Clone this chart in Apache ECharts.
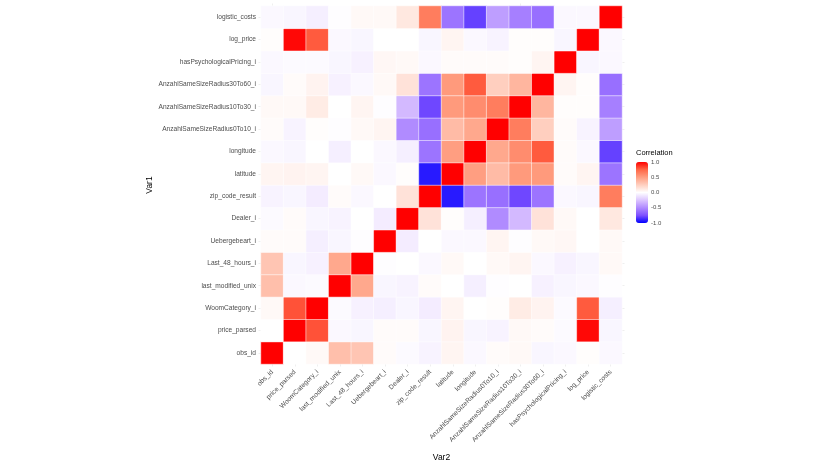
<!DOCTYPE html>
<html>
<head>
<meta charset="utf-8">
<script src="https://cdn.jsdelivr.net/npm/echarts@6/dist/echarts.min.js"></script>
<style>
  html, body { margin: 0; padding: 0; background: #fff; }
  #chart { width: 830px; height: 467px; }
</style>
</head>
<body>
<div id="chart"></div>
<script>
// variables, bottom-to-top on Var1 and left-to-right on Var2
var vars = ['obs_id', 'price_parsed', 'WoomCategory_i', 'last_modified_unix', 'Last_48_hours_i',
  'Uebergebeart_i', 'Dealer_i', 'zip_code_result', 'latitude', 'longitude',
  'AnzahlSameSizeRadius0To10_i', 'AnzahlSameSizeRadius10To30_i', 'AnzahlSameSizeRadius30To60_i',
  'hasPsychologicalPricing_i', 'log_price', 'logistic_costs'];

// correlation rows, one per variable (same order as vars)
var corrObsId      = [1, 0, 0.03, 0.33, 0.30, 0.02, -0.02, -0.05, 0.05, -0.03, 0.02, 0.03, -0.04, -0.03, 0.01, -0.03];
var corrPrice      = [0, 1, 0.8, -0.03, -0.04, 0.02, 0.02, -0.04, 0.06, -0.04, -0.05, 0.03, 0.02, -0.02, 0.98, -0.04];
var corrWoom       = [0.03, 0.8, 1, -0.02, -0.06, -0.07, -0.04, -0.08, 0.05, 0, 0.01, 0.1, 0.06, -0.02, 0.78, -0.07];
var corrLastMod    = [0.33, -0.03, -0.02, 1, 0.45, -0.04, -0.05, 0.02, 0, -0.07, -0.01, 0, -0.06, -0.04, -0.03, -0.01];
var corrLast48     = [0.30, -0.04, -0.06, 0.45, 1, -0.01, 0, -0.03, 0.03, 0, 0.03, 0.05, -0.03, -0.06, -0.04, 0.03];
var corrUeberg     = [0.02, 0.02, -0.07, -0.04, -0.01, 1, -0.08, 0, -0.03, -0.03, 0.05, -0.01, 0.03, 0.04, 0, 0.03];
var corrDealer     = [-0.02, 0.02, -0.04, -0.05, 0, -0.08, 1, 0.15, 0.01, -0.07, -0.5, -0.3, 0.15, 0.03, 0, 0.12];
var corrZip        = [-0.05, -0.04, -0.08, 0.02, -0.03, 0, 0.15, 1, -0.92, -0.6, -0.62, -0.78, -0.6, -0.03, -0.04, 0.65];
var corrLat        = [0.05, 0.06, 0.05, 0, 0.03, -0.03, 0.01, -0.92, 1, 0.5, 0.35, 0.52, 0.52, 0.02, 0.05, -0.6];
var corrLon        = [-0.03, -0.04, 0, -0.07, 0, -0.03, -0.07, -0.6, 0.5, 1, 0.45, 0.58, 0.78, 0.02, -0.03, -0.8];
var corrR0To10     = [0.02, -0.05, 0.01, -0.01, 0.03, 0.05, -0.5, -0.62, 0.35, 0.45, 1, 0.65, 0.25, 0.02, -0.05, -0.42];
var corrR10To30    = [0.03, 0.03, 0.1, 0, 0.05, -0.01, -0.3, -0.78, 0.52, 0.58, 0.65, 1, 0.38, 0.01, 0.01, -0.55];
var corrR30To60    = [-0.04, 0.02, 0.06, -0.06, -0.03, 0.03, 0.15, -0.6, 0.52, 0.78, 0.25, 0.38, 1, 0.05, 0.01, -0.62];
var corrPsych      = [-0.03, -0.02, -0.02, -0.04, -0.06, 0.04, 0.03, -0.03, 0.02, 0.02, 0.02, 0.01, 0.05, 1, -0.04, -0.03];
var corrLogPrice   = [0.01, 0.98, 0.78, -0.03, -0.04, 0, 0, -0.04, 0.05, -0.03, -0.05, 0.01, 0.01, -0.04, 1, -0.03];
var corrLogistic   = [-0.03, -0.04, -0.07, -0.01, 0.03, 0.03, 0.12, 0.65, -0.6, -0.8, -0.42, -0.55, -0.62, -0.03, -0.03, 1];

var corrRows = [corrObsId, corrPrice, corrWoom, corrLastMod, corrLast48, corrUeberg, corrDealer, corrZip,
  corrLat, corrLon, corrR0To10, corrR10To30, corrR30To60, corrPsych, corrLogPrice, corrLogistic];

var legendTicks = [-1, -0.5, 0, 0.5, 1];

// heatmap triples [Var2 index, Var1 index, value]
var cells = [];
for (var i = 0; i < corrRows.length; i++) {
  for (var j = 0; j < corrRows[i].length; j++) {
    cells.push([j, i, corrRows[i][j]]);
  }
}

var font = 'Liberation Sans, Arial, sans-serif';
var gridTick = { show: true, alignWithLabel: true, length: 2.5, lineStyle: { color: '#e4e4e4', width: 0.6 } };

var myChart = echarts.init(document.getElementById('chart'), null, { renderer: 'canvas' });

var option = {
  backgroundColor: '#ffffff',
  animation: false,
  title: {
    text: 'Correlation',
    left: 636,
    top: 149,
    padding: 0,
    textStyle: { fontFamily: font, fontSize: 7.5, fontWeight: 'normal', color: '#000' }
  },
  grid: [
    { left: 261, top: 6, width: 361, height: 361 },
    { left: 636, top: 162, width: 12, height: 61 }
  ],
  xAxis: [{
    type: 'category',
    data: vars,
    gridIndex: 0,
    position: 'bottom',
    axisLine: { show: false },
    axisTick: gridTick,
    splitLine: { show: false },
    axisLabel: { rotate: 45, interval: 0, margin: 7, fontSize: 6.7, color: '#4d4d4d', fontFamily: font },
    name: 'Var2',
    nameLocation: 'middle',
    nameGap: 89,
    nameTextStyle: { fontSize: 8.5, color: '#000', fontFamily: font }
  }, {
    type: 'category',
    data: vars,
    gridIndex: 0,
    position: 'top',
    axisLine: { show: false },
    axisTick: gridTick,
    axisLabel: { show: false }
  }, {
    type: 'value',
    gridIndex: 1,
    show: false
  }],
  yAxis: [{
    type: 'category',
    data: vars,
    gridIndex: 0,
    position: 'left',
    axisLine: { show: false },
    axisTick: gridTick,
    splitLine: { show: false },
    axisLabel: { interval: 0, margin: 5, fontSize: 6.6, color: '#4d4d4d', fontFamily: font },
    name: 'Var1',
    nameLocation: 'middle',
    nameGap: 102,
    nameTextStyle: { fontSize: 8.5, color: '#000', fontFamily: font }
  }, {
    type: 'category',
    data: vars,
    gridIndex: 0,
    position: 'right',
    axisLine: { show: false },
    axisTick: gridTick,
    axisLabel: { show: false }
  }, {
    type: 'value',
    gridIndex: 1,
    position: 'right',
    min: -1,
    max: 1,
    interval: 0.5,
    axisLine: { show: false },
    axisTick: { show: true, inside: true, length: 2.5, lineStyle: { color: '#ffffff', width: 0.6 } },
    splitLine: { show: false },
    axisLabel: {
      margin: 3,
      fontSize: 6,
      color: '#4d4d4d',
      fontFamily: font,
      formatter: function (v) { return legendTicks.indexOf(v) >= 0 ? v.toFixed(1) : ''; }
    }
  }],
  visualMap: {
    type: 'continuous',
    min: -1,
    max: 1,
    left: 636,
    top: 162,
    padding: 0,
    itemWidth: 12,
    itemHeight: 61,
    calculable: false,
    showLabel: false,
    text: null,
    seriesIndex: 0,
    inRange: {
      color: ['#0000ff', '#7e51ff', '#b08bff', '#dcc5ff', '#ffffff', '#ffcfbf', '#ff9e81', '#ff6746', '#ff0000']
    }
  },
  series: [{
    name: 'Correlation',
    type: 'heatmap',
    xAxisIndex: 0,
    yAxisIndex: 0,
    data: cells,
    itemStyle: { borderColor: '#ffffff', borderWidth: 0.5 },
    emphasis: { disabled: true }
  }]
};

myChart.setOption(option);
</script>
</body>
</html>
